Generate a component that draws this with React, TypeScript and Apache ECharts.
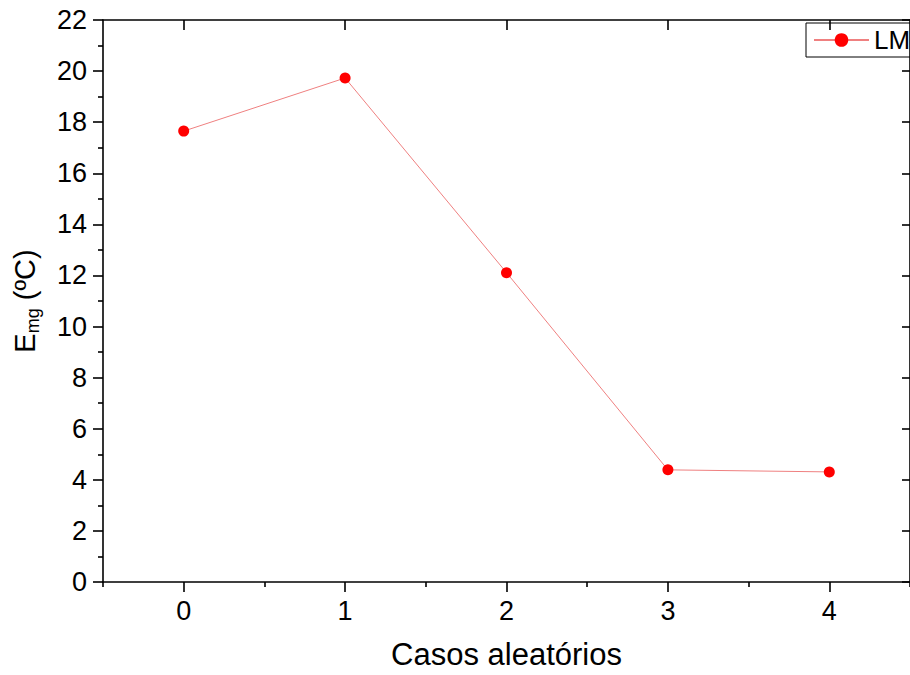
import React, { useEffect, useRef } from "react";
import * as echarts from "echarts";

const cases = [0, 1, 2, 3, 4];
const lmValues = [17.65, 19.73, 12.11, 4.39, 4.31];
const xMajorTicks = [0, 1, 2, 3, 4];
const xMinorTicks = [-0.5, 0.5, 1.5, 2.5, 3.5, 4.5];
const seriesName = "LM";
const xTitle = "Casos aleatórios";

const FONT = 'Arial, "Liberation Sans", sans-serif';

export default function App() {
  const ref = useRef<HTMLDivElement>(null);
  useEffect(() => {
    if (!ref.current) return;
    const chart = echarts.init(ref.current, undefined, { renderer: "svg" });
    const axisLine = { show: true, onZero: false, lineStyle: { color: "#000", width: 1.6 } };
    chart.setOption({
      animation: false,
      backgroundColor: "#fff",
      grid: { left: 102, top: 20, bottom: 92, right: -12, containLabel: false },
      legend: {
        show: true,
        left: 806,
        top: 23,
        padding: [4, 8, 4, 7],
        borderColor: "#000",
        borderWidth: 1,
        itemWidth: 55,
        itemHeight: 17,
        itemGap: 5,
        textStyle: { fontSize: 26, color: "#000", fontFamily: FONT },
        data: [seriesName],
      },
      xAxis: [
        {
          type: "value",
          position: "bottom",
          min: -0.5,
          max: 4.5,
          interval: 0.5,
          axisLine,
          axisTick: {
            show: true,
            inside: false,
            length: 10,
            customValues: xMajorTicks,
            lineStyle: { color: "#000", width: 1.6 },
          },
          axisLabel: {
            show: true,
            customValues: xMajorTicks,
            fontSize: 27,
            color: "#000",
            fontFamily: FONT,
            margin: 15,
            formatter: (v: number) => (Number.isInteger(v) ? String(v) : ""),
          },
          splitLine: { show: false },
          name: xTitle,
          nameLocation: "middle",
          nameGap: 57,
          nameTextStyle: { fontSize: 31, color: "#000", fontFamily: FONT },
        },
        {
          type: "value",
          position: "bottom",
          min: -0.5,
          max: 4.5,
          interval: 0.5,
          axisLine: { show: false, onZero: false },
          axisTick: {
            show: true,
            inside: false,
            length: 5,
            customValues: xMinorTicks,
            lineStyle: { color: "#000", width: 1.6 },
          },
          axisLabel: { show: false },
          splitLine: { show: false },
        },
        {
          type: "value",
          position: "top",
          min: -0.5,
          max: 4.5,
          interval: 0.5,
          axisLine,
          axisTick: {
            show: true,
            inside: true,
            length: 10,
            customValues: xMajorTicks,
            lineStyle: { color: "#000", width: 1.6 },
          },
          axisLabel: { show: false },
          splitLine: { show: false },
        },
      ],
      yAxis: [
        {
          type: "value",
          position: "left",
          min: 0,
          max: 22,
          interval: 2,
          axisLine,
          axisTick: {
            show: true,
            inside: false,
            length: 10,
            lineStyle: { color: "#000", width: 1.6 },
          },
          minorTick: {
            show: true,
            splitNumber: 2,
            length: 5,
            lineStyle: { color: "#000", width: 1.6 },
          },
          axisLabel: {
            fontSize: 27,
            color: "#000",
            fontFamily: FONT,
            margin: 16,
          },
          splitLine: { show: false },
          name: "{a|E}{b|mg}{a| (ºC)}",
          nameLocation: "middle",
          nameGap: 62,
          nameRotate: 90,
          nameTextStyle: {
            color: "#000",
            fontFamily: FONT,
            rich: {
              a: { fontSize: 29, color: "#000", fontFamily: FONT, lineHeight: 32 },
              b: {
                fontSize: 18,
                color: "#000",
                fontFamily: FONT,
                lineHeight: 32,
                padding: [16, 0, 0, 0],
              },
            },
          },
        },
        {
          type: "value",
          position: "right",
          min: 0,
          max: 22,
          interval: 2,
          axisLine,
          axisTick: {
            show: true,
            inside: true,
            length: 8,
            lineStyle: { color: "#000", width: 1.6 },
          },
          axisLabel: { show: false },
          splitLine: { show: false },
        },
      ],
      series: [
        {
          name: seriesName,
          type: "line",
          xAxisIndex: 0,
          yAxisIndex: 0,
          data: cases.map((c, i) => [c, lmValues[i]]),
          symbol: "circle",
          symbolSize: 11,
          itemStyle: { color: "#ff0000" },
          lineStyle: { color: "#ef8080", width: 1 },
        },
      ],
    });
    return () => chart.dispose();
  }, []);
  return (
    <div
      ref={ref}
      style={{ position: "fixed", left: 0, top: 0, width: 910, height: 675 }}
    />
  );
}
